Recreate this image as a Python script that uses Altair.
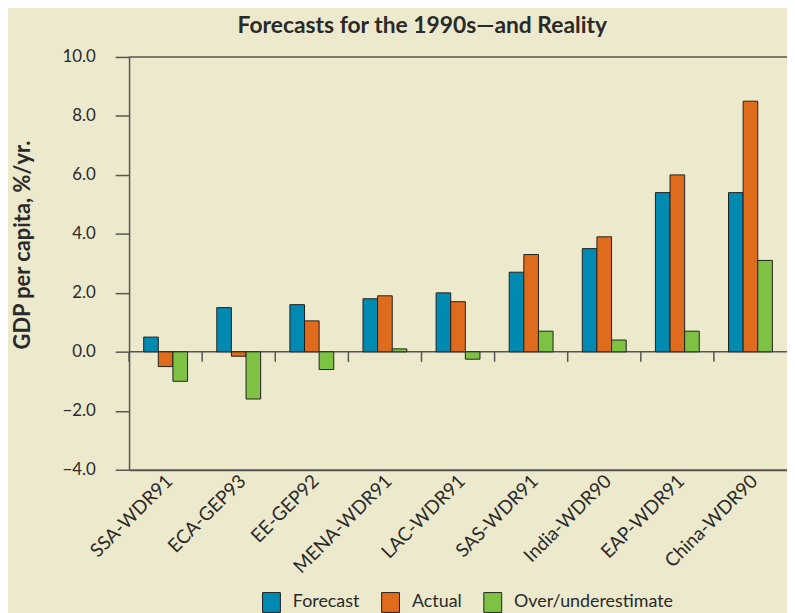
import altair as alt
import pandas as pd

categories = ["SSA-WDR91", "ECA-GEP93", "EE-GEP92", "MENA-WDR91", "LAC-WDR91",
              "SAS-WDR91", "India-WDR90", "EAP-WDR91", "China-WDR90"]
forecast = [0.5, 1.5, 1.6, 1.8, 2.0, 2.7, 3.5, 5.4, 5.4]
actual = [-0.5, -0.15, 1.05, 1.9, 1.7, 3.3, 3.9, 6.0, 8.5]
over = [-1.0, -1.6, -0.6, 0.1, -0.25, 0.7, 0.4, 0.7, 3.1]
series = ["Forecast", "Actual", "Over/underestimate"]
colors = ["#0089B1", "#DE6C1C", "#7DC243"]
y_ticks = [-4, -2, 0, 2, 4, 6, 8, 10]

rows = []
for i, c in enumerate(categories):
    for s, vals in zip(series, [forecast, actual, over]):
        rows.append({"cat": c, "series": s, "value": vals[i]})
df = pd.DataFrame(rows)
cats_df = pd.DataFrame({"cat": categories})

FONT = "Lato"
INK = "#2a2a2a"
LINE = "#555555"

xscale = alt.Scale(domain=categories, paddingInner=0, paddingOuter=0)
yscale = alt.Scale(domain=[-4, 10], nice=False, zero=False)

bars = alt.Chart(df).mark_bar(stroke="#222222", strokeWidth=1).encode(
    x=alt.X("cat:N", scale=xscale, sort=categories,
            axis=alt.Axis(title=None, labelAngle=-45, labelFontSize=19, labelColor=INK,
                          labelFont=FONT, ticks=False, domainColor=LINE, domainWidth=2,
                          labelPadding=8, labelOffset=4)),
    xOffset=alt.XOffset("series:N", sort=series,
                        scale=alt.Scale(domain=series, paddingInner=0, paddingOuter=1)),
    y=alt.Y("value:Q", scale=yscale, stack=False,
            axis=alt.Axis(title="GDP per capita, %/yr.", values=y_ticks, format=".1f",
                          grid=False, labelFontSize=17, labelColor=INK, labelFont=FONT,
                          labelPadding=20, tickSize=14, tickColor=LINE, tickWidth=1.5,
                          domainColor=LINE, domainWidth=1.5,
                          titleFont=FONT, titleFontSize=22, titleFontWeight="bold",
                          titleColor=INK, titleX=-107, titleY=189, titleBaseline="middle",
                          titleAngle=270)),
    color=alt.Color("series:N", sort=series,
                    scale=alt.Scale(domain=series, range=colors),
                    legend=alt.Legend(title=None, orient="none", direction="horizontal",
                                      legendX=133, legendY=539,
                                      symbolType="M-0.9,-1H0.9V1H-0.9Z",
                                      symbolSize=400, symbolStrokeColor="#222222",
                                      symbolStrokeWidth=1, symbolOpacity=1,
                                      labelFont=FONT, labelFontSize=18, labelColor=INK,
                                      labelOffset=11, columnPadding=19, labelLimit=400)),
)

zero = alt.Chart(pd.DataFrame({"v": [0]})).mark_rule(color=LINE, strokeWidth=1.5).encode(
    y=alt.Y("v:Q", scale=yscale))
top = alt.Chart(pd.DataFrame({"v": [10]})).mark_rule(color=LINE, strokeWidth=1.5).encode(
    y=alt.Y("v:Q", scale=yscale))
seps = alt.Chart(cats_df).transform_calculate(y0="0", y1="-0.34").mark_rule(
    color=LINE, strokeWidth=1.5).encode(
    x=alt.X("cat:N", scale=xscale, sort=categories, bandPosition=0),
    y=alt.Y("y0:Q", scale=yscale),
    y2="y1:Q")

chart = alt.layer(seps, zero, top, bars).properties(
    width=663, height=416,
    title=alt.TitleParams("Forecasts for the 1990s\u2014and Reality", font=FONT, fontSize=23,
                          fontWeight="bold", color=INK, anchor="middle",
                          offset=10, dx=-36),
    autosize=alt.AutoSizeParams(type="none"),
    padding={"left": 122, "top": 47, "right": 0, "bottom": 142},
).configure(background="#EDE9CC").configure_view(stroke=None)

chart.save("out.html", embed_options={"renderer": "svg", "actions": False})
